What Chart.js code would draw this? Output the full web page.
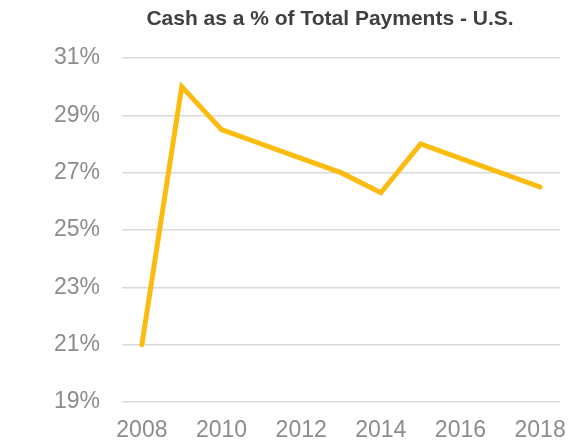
<!DOCTYPE html>
<html>
<head>
<meta charset="utf-8">
<script src="https://cdn.jsdelivr.net/npm/chart.js@4"></script>
<style>
  html, body { margin: 0; padding: 0; background: #fff; }
  #wrap { width: 568px; height: 441px; }
</style>
</head>
<body>
<div id="wrap"><canvas id="cash-chart"></canvas></div>
<script>
const anos = ['2008', '2009', '2010', '2011', '2012', '2013', '2014', '2015', '2016', '2017', '2018']
const dinheiro = [21, 30, 28.5, 28, 27.5, 27, 26.3, 28, 27.5, 27, 26.5]
const titulo = 'Cash as a % of Total Payments - U.S.'

// titulo desenhado a mao, centrado um pouco a esquerda do centro do grafico
const tituloPlugin = {
    id: 'tituloPlugin',
    afterDraw(chart) {
        const c = chart.ctx
        c.save()
        c.font = 'bold 21px "Liberation Sans", Arial'
        c.fillStyle = '#404040'
        c.textAlign = 'center'
        c.textBaseline = 'middle'
        c.fillText(titulo, 330, 19)
        c.restore()
    }
}

let ctx = document.getElementById('cash-chart').getContext('2d')

const grafico = new Chart(ctx, {
    type: 'line',
    data: {
        labels: anos,
        datasets: [{
            label: 'Cash',
            data: dinheiro,
            borderColor: '#FBBC0F',
            borderWidth: 5,
            pointRadius: 0,
            tension: 0,
            borderJoinStyle: 'miter',
            borderCapStyle: 'round'
        }]
    },
    options: {
        responsive: true,
        maintainAspectRatio: false,
        animation: false,
        layout: { padding: { left: 0, right: 8, top: 58, bottom: 0 } },
        plugins: {
            legend: { display: false },
            tooltip: { enabled: false },
            title: { display: false }
        },
        scales: {
            x: {
                offset: true,
                grid: { display: false },
                border: { display: false },
                ticks: {
                    autoSkip: false,
                    maxRotation: 0,
                    color: '#8c8c8c',
                    font: { family: 'Liberation Sans, Arial', size: 23 },
                    padding: 7,
                    callback: function (v, i) {
                        return i % 2 === 0 ? anos[i] : ''
                    }
                },
                afterFit: function (scale) {
                    scale.height = 39
                    scale.paddingLeft = 0
                    scale.paddingRight = 0
                }
            },
            y: {
                min: 19,
                max: 31,
                grid: { color: '#d9d9d9', lineWidth: 1.5, drawTicks: false },
                border: { display: false },
                ticks: {
                    stepSize: 2,
                    color: '#8c8c8c',
                    font: { family: 'Liberation Sans, Arial', size: 23 },
                    padding: 22,
                    callback: v => v + '%'
                },
                afterFit: function (scale) { scale.width = 122 }
            }
        }
    },
    plugins: [tituloPlugin]
})
</script>
</body>
</html>
